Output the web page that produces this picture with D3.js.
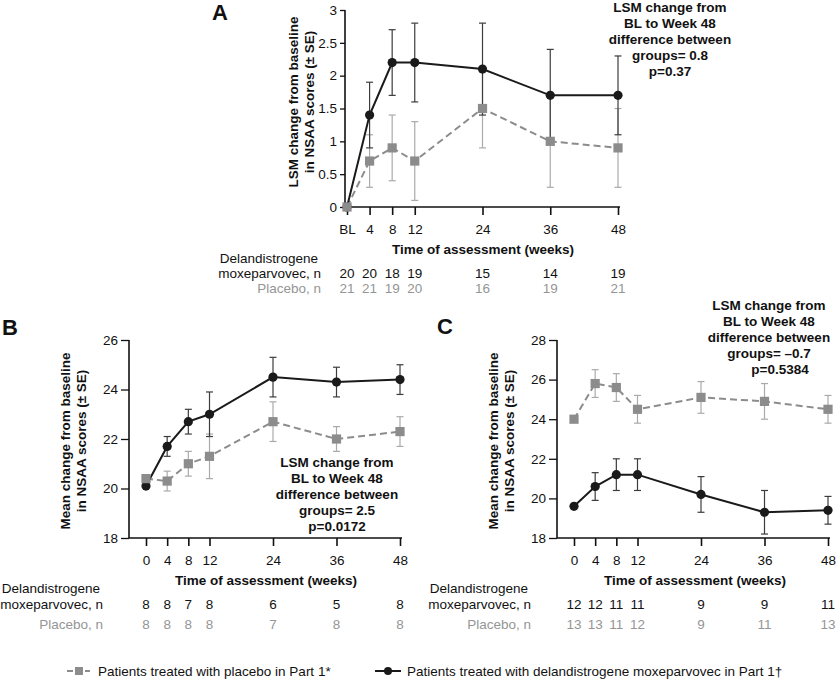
<!DOCTYPE html>
<html>
<head>
<meta charset="utf-8">
<script src="https://cdn.jsdelivr.net/npm/d3@7"></script>
<style>
  body { margin: 0; background: #fff; }
  svg { display: block; font-family: "Liberation Sans", Arial, sans-serif; }
</style>
</head>
<body>
<svg id="chart" width="837" height="679"></svg>
<script>
(function () {
  'use strict';

  // ── Data ────────────────────────────────────────────────────────────────────

  var weeks = [0, 4, 8, 12, 24, 36, 48];

  // Panel A: LSM change from baseline
  var aDelMean = [0, 1.4, 2.2, 2.2, 2.1, 1.7, 1.7];
  var aDelSE   = [0, 0.5, 0.5, 0.6, 0.7, 0.7, 0.6];
  var aPlaMean = [0, 0.7, 0.9, 0.7, 1.5, 1.0, 0.9];
  var aPlaSE   = [0, 0.4, 0.5, 0.6, 0.6, 0.7, 0.6];
  var aDelN    = [20, 20, 18, 19, 15, 14, 19];
  var aPlaN    = [21, 21, 19, 20, 16, 19, 21];

  // Panel B
  var bDelMean = [20.1, 21.7, 22.7, 23.0, 24.5, 24.3, 24.4];
  var bDelSE   = [0, 0.4, 0.5, 0.9, 0.8, 0.6, 0.6];
  var bPlaMean = [20.4, 20.3, 21.0, 21.3, 22.7, 22.0, 22.3];
  var bPlaSE   = [0, 0.4, 0.5, 0.9, 0.8, 0.5, 0.6];
  var bDelN    = [8, 8, 7, 8, 6, 5, 8];
  var bPlaN    = [8, 8, 8, 8, 7, 8, 8];

  // Panel C
  var cDelMean = [19.6, 20.6, 21.2, 21.2, 20.2, 19.3, 19.4];
  var cDelSE   = [0, 0.7, 0.8, 0.8, 0.9, 1.1, 0.7];
  var cPlaMean = [24.0, 25.8, 25.6, 24.5, 25.1, 24.9, 24.5];
  var cPlaSE   = [0, 0.7, 0.7, 0.7, 0.8, 0.9, 0.7];
  var cDelN    = [12, 12, 11, 11, 9, 9, 11];
  var cPlaN    = [13, 13, 11, 12, 9, 11, 13];

  var aYTicks = [0, 0.5, 1, 1.5, 2, 2.5, 3];
  var bYTicks = [18, 20, 22, 24, 26];
  var cYTicks = [18, 20, 22, 24, 26, 28];

  var aNote = ['LSM change from', 'BL to Week 48', 'difference between', 'groups= 0.8', 'p=0.37'];
  var bNote = ['LSM change from', 'BL to Week 48', 'difference between', 'groups= 2.5', 'p=0.0172'];
  var cNote = ['LSM change from', 'BL to Week 48', 'difference between', 'groups= \u20130.7', 'p=0.5384'];

  var aYLabel = ['LSM change from baseline', 'in NSAA scores (\u00b1 SE)'];
  var bcYLabel = ['Mean change from baseline', 'in NSAA scores (\u00b1 SE)'];

  var DEL = '#1a1a1a', DEL_ERR = '#3c3c3c';
  var PLA = '#8c8c8c', PLA_ERR = '#aaaaaa', PLA_TXT = '#959595';
  var FS = 13.5;

  var svg = d3.select('#chart');

  // ── Panel ───────────────────────────────────────────────────────────────────

  function drawPanel(p) {
    var x = d3.scaleLinear().domain([0, 48]).range(p.xr);
    var y = d3.scaleLinear().domain(p.yd).range([p.yb, p.yt]);
    var g = svg.append('g');

    // panel letter
    g.append('text').attr('x', p.letter[0]).attr('y', p.letter[1])
      .attr('font-size', 22).attr('font-weight', 'bold').attr('fill', '#111')
      .text(p.name);

    // y axis
    var yg = g.append('g').attr('transform', 'translate(' + p.ax + ',0)')
      .call(d3.axisLeft(y).tickValues(p.yTicks).tickSize(p.yTickLen).tickPadding(3)
        .tickFormat(function (d) { return String(d); }));
    yg.select('.domain').remove();
    yg.attr('font-family', null).attr('font-size', FS);
    yg.selectAll('line').attr('stroke', '#111').attr('stroke-width', 1.3);
    yg.selectAll('text').attr('fill', '#111');
    g.append('line').attr('x1', p.ax).attr('x2', p.ax).attr('y1', p.yt).attr('y2', p.yb)
      .attr('stroke', '#111').attr('stroke-width', 1.6);

    // x axis
    var xg = g.append('g').attr('transform', 'translate(0,' + p.yb + ')')
      .call(d3.axisBottom(x).tickValues(weeks).tickSize(8).tickPadding(9)
        .tickFormat(function (d) { return d === 0 ? p.zeroLabel : String(d); }));
    xg.select('.domain').remove();
    xg.attr('font-family', null).attr('font-size', FS);
    xg.selectAll('line').attr('stroke', '#111').attr('stroke-width', 1.6);
    xg.selectAll('text').attr('fill', '#111');
    g.append('line').attr('x1', p.ax).attr('x2', p.xr[1] + 2).attr('y1', p.yb).attr('y2', p.yb)
      .attr('stroke', '#111').attr('stroke-width', 1.6);

    // axis titles
    g.append('text').attr('x', p.xTitle[0]).attr('y', p.xTitle[1])
      .attr('text-anchor', 'middle').attr('font-size', FS).attr('font-weight', 'bold')
      .attr('fill', '#111').text('Time of assessment (weeks)');

    p.yLabel.forEach(function (t, i) {
      var bx = p.yTitle[0] + i * 15.5;
      g.append('text').attr('transform', 'translate(' + bx + ',' + p.yTitle[1] + ') rotate(-90)')
        .attr('text-anchor', 'middle').attr('font-size', FS).attr('font-weight', 'bold')
        .attr('fill', '#111').text(t);
    });

    // n rows
    g.append('text').attr('x', p.rowX - 3).attr('y', p.rowY[0]).attr('text-anchor', 'end')
      .attr('font-size', FS).attr('fill', '#111').text('Delandistrogene');
    g.append('text').attr('x', p.rowX).attr('y', p.rowY[1]).attr('text-anchor', 'end')
      .attr('font-size', FS).attr('fill', '#111').text('moxeparvovec, n');
    g.append('text').attr('x', p.rowX).attr('y', p.rowY[2]).attr('text-anchor', 'end')
      .attr('font-size', FS).attr('fill', PLA_TXT).text('Placebo, n');
    weeks.forEach(function (w, i) {
      g.append('text').attr('x', x(w)).attr('y', p.rowY[1]).attr('text-anchor', 'middle')
        .attr('font-size', FS).attr('fill', '#111').text(p.delN[i]);
      g.append('text').attr('x', x(w)).attr('y', p.rowY[2]).attr('text-anchor', 'middle')
        .attr('font-size', FS).attr('fill', PLA_TXT).text(p.plaN[i]);
    });

    // error bars
    function errBars(mean, se, col) {
      var eg = g.append('g').attr('stroke', col).attr('stroke-width', 1.2);
      weeks.forEach(function (w, i) {
        if (!se[i]) return;
        var cx = x(w), lo = y(mean[i] - se[i]), hi = y(mean[i] + se[i]);
        eg.append('line').attr('x1', cx).attr('x2', cx).attr('y1', lo).attr('y2', hi);
        eg.append('line').attr('x1', cx - 3.5).attr('x2', cx + 3.5).attr('y1', lo).attr('y2', lo);
        eg.append('line').attr('x1', cx - 3.5).attr('x2', cx + 3.5).attr('y1', hi).attr('y2', hi);
      });
    }
    errBars(p.plaMean, p.plaSE, PLA_ERR);
    errBars(p.delMean, p.delSE, DEL_ERR);

    var line = function (mean) {
      return d3.line().x(function (d, i) { return x(weeks[i]); })
        .y(function (d) { return y(d); })(mean);
    };
    g.append('path').attr('d', line(p.plaMean)).attr('fill', 'none')
      .attr('stroke', PLA).attr('stroke-width', 2).attr('stroke-dasharray', '7,4');
    g.append('path').attr('d', line(p.delMean)).attr('fill', 'none')
      .attr('stroke', DEL).attr('stroke-width', 2);

    g.append('g').selectAll('circle').data(p.delMean).join('circle')
      .attr('cx', function (d, i) { return x(weeks[i]); })
      .attr('cy', function (d) { return y(d); })
      .attr('r', 4.6).attr('fill', DEL);
    g.append('g').selectAll('rect').data(p.plaMean).join('rect')
      .attr('x', function (d, i) { return x(weeks[i]) - 4.6; })
      .attr('y', function (d) { return y(d) - 4.6; })
      .attr('width', 9.2).attr('height', 9.2).attr('fill', PLA);

    // annotation
    p.note.forEach(function (t, i) {
      var dx = (i === p.note.length - 1) ? p.pShift : 0;
      g.append('text').attr('x', p.noteXY[0] + dx).attr('y', p.noteXY[1] + i * 16)
        .attr('text-anchor', 'middle').attr('font-size', FS).attr('font-weight', 'bold')
        .attr('fill', '#111').text(t);
    });
  }

  drawPanel({
    name: 'A', letter: [212, 20], zeroLabel: 'BL',
    xr: [347, 618], yd: [0, 3], yb: 207, yt: 10, ax: 345, yTicks: aYTicks, yTickLen: 5,
    xTitle: [483, 254], yTitle: [298, 102], yLabel: aYLabel,
    rowX: 321, rowY: [263, 278, 293],
    delMean: aDelMean, delSE: aDelSE, plaMean: aPlaMean, plaSE: aPlaSE,
    delN: aDelN, plaN: aPlaN, note: aNote, noteXY: [670, 12], pShift: 0
  });

  drawPanel({
    name: 'B', letter: [2, 335], zeroLabel: '0',
    xr: [146, 400], yd: [18, 26], yb: 538, yt: 340, ax: 129, yTicks: bYTicks, yTickLen: 8,
    xTitle: [266, 585], yTitle: [70, 441], yLabel: bcYLabel,
    rowX: 103, rowY: [593, 609, 629],
    delMean: bDelMean, delSE: bDelSE, plaMean: bPlaMean, plaSE: bPlaSE,
    delN: bDelN, plaN: bPlaN, note: bNote, noteXY: [337, 467], pShift: 0
  });

  drawPanel({
    name: 'C', letter: [437, 334], zeroLabel: '0',
    xr: [574, 828], yd: [18, 28], yb: 538, yt: 340, ax: 557, yTicks: cYTicks, yTickLen: 8,
    xTitle: [695, 585], yTitle: [498, 441], yLabel: bcYLabel,
    rowX: 531, rowY: [593, 609, 629],
    delMean: cDelMean, delSE: cDelSE, plaMean: cPlaMean, plaSE: cPlaSE,
    delN: cDelN, plaN: cPlaN, note: cNote, noteXY: [769, 310], pShift: 11
  });

  // ── Legend ──────────────────────────────────────────────────────────────────

  var lg = svg.append('g');
  lg.append('line').attr('x1', 67).attr('x2', 90).attr('y1', 671).attr('y2', 671)
    .attr('stroke', PLA).attr('stroke-width', 2).attr('stroke-dasharray', '6,3');
  lg.append('rect').attr('x', 75).attr('y', 667).attr('width', 8).attr('height', 8).attr('fill', PLA);
  lg.append('text').attr('x', 98).attr('y', 676).attr('font-size', FS).attr('fill', '#111')
    .text('Patients treated with placebo in Part 1*');
  lg.append('line').attr('x1', 375).attr('x2', 401).attr('y1', 671).attr('y2', 671)
    .attr('stroke', DEL).attr('stroke-width', 2);
  lg.append('circle').attr('cx', 388).attr('cy', 671).attr('r', 4).attr('fill', DEL);
  lg.append('text').attr('x', 407).attr('y', 676).attr('font-size', FS).attr('fill', '#111')
    .text('Patients treated with delandistrogene moxeparvovec in Part 1\u2020');
})();
</script>
</body>
</html>
